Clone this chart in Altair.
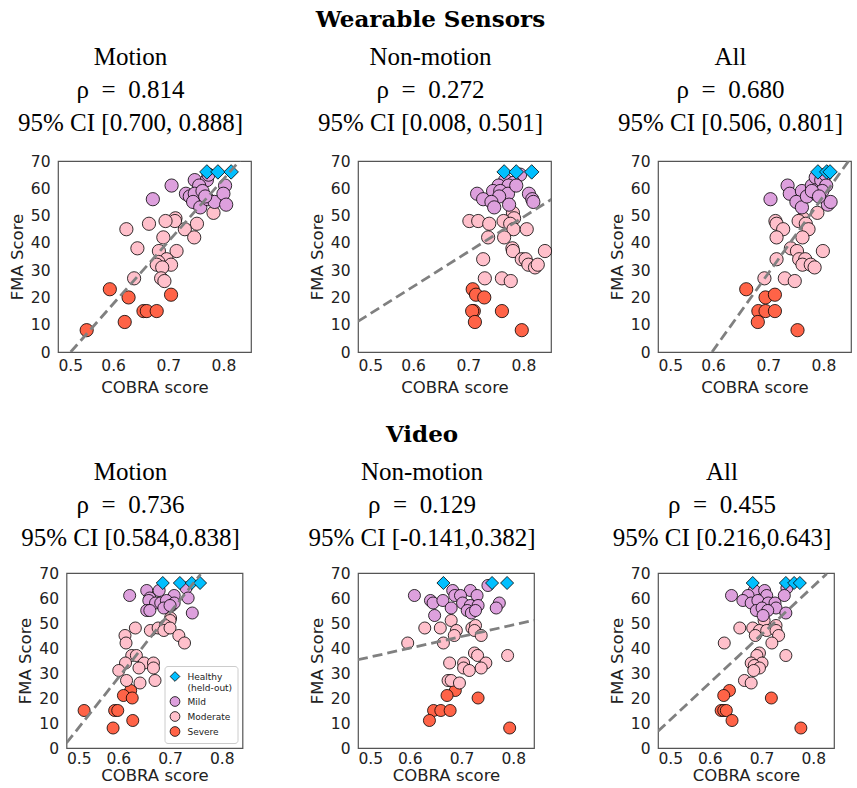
import altair as alt
import pandas as pd

GROUPS = ["Healthy", "Mild", "Moderate", "Severe"]
COLORS = ["#00BFFF", "#DDA0DD", "#FFC0CB", "#FF6347"]
SHAPES = ["diamond", "circle", "circle", "circle"]

SECTION_TOP = "Wearable Sensors"
SECTION_BOTTOM = "Video"
SP = "\u2002"

# ---------- Wearable sensors: Motion ----------
ws_motion_title = ["Motion", "ρ" + SP + "=" + SP + "0.814", "95% CI [0.700, 0.888]"]
ws_motion_healthy_x = [0.770, 0.790, 0.814]
ws_motion_healthy_y = [66, 66, 66]
ws_motion_mild_x = [0.706, 0.672, 0.748, 0.770, 0.773, 0.756, 0.803, 0.732, 0.739, 0.748, 0.762, 0.745, 0.758, 0.772, 0.784, 0.800, 0.805, 0.767]
ws_motion_mild_y = [61, 56, 63, 63, 65, 61, 61, 58, 57, 58, 59, 55, 53, 56, 55, 58, 54, 57]
ws_motion_moderate_x = [0.782, 0.713, 0.712, 0.695, 0.665, 0.752, 0.624, 0.730, 0.691, 0.747, 0.644, 0.683, 0.715, 0.697, 0.682, 0.705, 0.679, 0.689, 0.638, 0.687, 0.693]
ws_motion_moderate_y = [51, 49, 48, 48, 47, 47, 45, 45, 42, 42, 38, 37, 37, 34, 33, 32, 32, 31, 27, 27, 26]
ws_motion_severe_x = [0.594, 0.628, 0.705, 0.655, 0.661, 0.679, 0.621, 0.552]
ws_motion_severe_y = [23, 20, 21, 15, 15, 15, 11, 8]
ws_motion_fit_x = [0.523, 0.830]
ws_motion_fit_y = [0.0, 70.2]

# ---------- Wearable sensors: Non-motion ----------
ws_nonmotion_title = ["Non-motion", "ρ" + SP + "=" + SP + "0.272", "95% CI [0.008, 0.501]"]
ws_nonmotion_healthy_x = [0.765, 0.787, 0.815]
ws_nonmotion_healthy_y = [66, 66, 66]
ws_nonmotion_mild_x = [0.794, 0.767, 0.755, 0.782, 0.773, 0.716, 0.727, 0.745, 0.758, 0.772, 0.756, 0.742, 0.747, 0.774, 0.810, 0.816, 0.818, 0.787]
ws_nonmotion_mild_y = [65, 63, 61, 62, 61, 58, 56, 59, 59, 58, 57, 55, 53, 54, 58, 56, 55, 61]
ws_nonmotion_moderate_x = [0.781, 0.783, 0.702, 0.718, 0.738, 0.764, 0.776, 0.782, 0.806, 0.736, 0.765, 0.780, 0.781, 0.839, 0.727, 0.797, 0.804, 0.809, 0.821, 0.826, 0.730, 0.761, 0.777]
ws_nonmotion_moderate_y = [51, 49, 48, 48, 47, 48, 47, 45, 45, 42, 42, 38, 37, 37, 34, 34, 34, 32, 31, 32, 27, 27, 26]
ws_nonmotion_severe_x = [0.708, 0.714, 0.729, 0.710, 0.707, 0.761, 0.712, 0.797]
ws_nonmotion_severe_y = [23, 21, 20, 15, 15, 15, 11, 8]
ws_nonmotion_fit_x = [0.5, 0.855]
ws_nonmotion_fit_y = [11.2, 56.5]

# ---------- Wearable sensors: All ----------
ws_all_title = ["All", "ρ" + SP + "=" + SP + "0.680", "95% CI [0.506, 0.801]"]
ws_all_healthy_x = [0.790, 0.806, 0.812]
ws_all_healthy_y = [66, 66, 66]
ws_all_mild_x = [0.735, 0.704, 0.739, 0.761, 0.751, 0.761, 0.770, 0.779, 0.786, 0.796, 0.804, 0.805, 0.787, 0.798, 0.808, 0.813, 0.779, 0.792]
ws_all_mild_y = [61, 56, 58, 59, 55, 53, 57, 61, 64, 63, 65, 61, 58, 59, 54, 55, 59, 57]
ws_all_moderate_x = [0.789, 0.763, 0.713, 0.715, 0.755, 0.768, 0.727, 0.773, 0.715, 0.762, 0.741, 0.752, 0.799, 0.715, 0.756, 0.767, 0.762, 0.777, 0.784, 0.693, 0.730, 0.748]
ws_all_moderate_y = [51, 49, 48, 47, 48, 47, 45, 45, 42, 42, 38, 37, 37, 34, 34, 34, 32, 32, 31, 27, 27, 26]
ws_all_severe_x = [0.660, 0.695, 0.712, 0.682, 0.695, 0.712, 0.681, 0.753]
ws_all_severe_y = [23, 20, 21, 15, 15, 15, 11, 8]
ws_all_fit_x = [0.598, 0.847]
ws_all_fit_y = [0.0, 70.4]

# ---------- Video: Motion ----------
v_motion_title = ["Motion", "ρ" + SP + "=" + SP + "0.736", "95% CI [0.584,0.838]"]
v_motion_healthy_x = [0.686, 0.719, 0.742, 0.758]
v_motion_healthy_y = [66, 66, 66, 66]
v_motion_mild_x = [0.622, 0.655, 0.679, 0.731, 0.661, 0.708, 0.735, 0.659, 0.672, 0.682, 0.693, 0.703, 0.688, 0.655, 0.661, 0.708, 0.743, 0.700]
v_motion_mild_y = [61, 63, 63, 64, 60, 61, 60, 59, 58, 58, 59, 57, 56, 55, 55, 58, 54, 57]
v_motion_moderate_x = [0.701, 0.700, 0.633, 0.662, 0.677, 0.691, 0.688, 0.700, 0.613, 0.615, 0.717, 0.728, 0.626, 0.635, 0.614, 0.650, 0.668, 0.640, 0.668, 0.601, 0.616, 0.642, 0.671]
v_motion_moderate_y = [52, 51, 48, 47, 48, 49, 47, 48, 45, 42, 45, 42, 37, 37, 34, 34, 34, 32, 32, 31, 27, 26, 27]
v_motion_severe_x = [0.624, 0.610, 0.627, 0.534, 0.593, 0.599, 0.628, 0.590]
v_motion_severe_y = [23, 21, 20, 15, 15, 15, 11, 8]
v_motion_fit_x = [0.5, 0.759]
v_motion_fit_y = [2.0, 69.5]

# ---------- Video: Non-motion ----------
v_nonmotion_title = ["Non-motion", "ρ" + SP + "=" + SP + "0.129", "95% CI [-0.141,0.382]"]
v_nonmotion_healthy_x = [0.665, 0.759, 0.788]
v_nonmotion_healthy_y = [66, 66, 66]
v_nonmotion_mild_x = [0.751, 0.683, 0.717, 0.687, 0.698, 0.730, 0.609, 0.640, 0.645, 0.664, 0.702, 0.717, 0.732, 0.680, 0.711, 0.719, 0.727, 0.773, 0.767, 0.648]
v_nonmotion_mild_y = [65, 63, 63, 61, 61, 61, 61, 59, 58, 59, 58, 57, 57, 56, 55, 54, 55, 58, 56, 53]
v_nonmotion_moderate_x = [0.680, 0.629, 0.659, 0.690, 0.720, 0.727, 0.725, 0.686, 0.738, 0.596, 0.665, 0.725, 0.731, 0.789, 0.677, 0.704, 0.747, 0.704, 0.715, 0.738, 0.674, 0.680, 0.696]
v_nonmotion_moderate_y = [51, 48, 48, 47, 48, 49, 47, 45, 45, 42, 42, 38, 37, 37, 34, 34, 34, 32, 31, 32, 27, 27, 26]
v_nonmotion_severe_x = [0.688, 0.672, 0.732, 0.646, 0.660, 0.678, 0.638, 0.793]
v_nonmotion_severe_y = [23, 21, 20, 15, 15, 15, 11, 8]
v_nonmotion_fit_x = [0.5, 0.84]
v_nonmotion_fit_y = [35.3, 51.1]

# ---------- Video: All ----------
v_all_title = ["All", "ρ" + SP + "=" + SP + "0.455", "95% CI [0.216,0.643]"]
v_all_healthy_x = [0.683, 0.747, 0.763, 0.774]
v_all_healthy_y = [66, 66, 66, 66]
v_all_mild_x = [0.749, 0.686, 0.706, 0.642, 0.674, 0.710, 0.744, 0.664, 0.680, 0.693, 0.713, 0.726, 0.728, 0.690, 0.701, 0.712, 0.703, 0.747]
v_all_mild_y = [64, 63, 63, 61, 61, 61, 61, 59, 58, 59, 58, 58, 56, 55, 56, 55, 53, 54]
v_all_moderate_x = [0.705, 0.658, 0.683, 0.696, 0.710, 0.728, 0.728, 0.688, 0.733, 0.720, 0.628, 0.696, 0.691, 0.747, 0.680, 0.701, 0.686, 0.696, 0.685, 0.667, 0.680]
v_all_moderate_y = [51, 48, 48, 47, 47, 49, 47, 45, 45, 42, 42, 38, 37, 37, 34, 34, 33, 32, 31, 27, 26]
v_all_severe_x = [0.638, 0.627, 0.719, 0.622, 0.627, 0.632, 0.643, 0.776]
v_all_severe_y = [23, 21, 20, 15, 15, 15, 11, 8]
v_all_fit_x = [0.5, 0.826]
v_all_fit_y = [6.7, 69.7]

X_TICKS = [0.5, 0.6, 0.7, 0.8]
Y_TICKS = [0, 10, 20, 30, 40, 50, 60, 70]

SERIF = "Liberation Serif"
TITLE_SIZE = 25
TITLE_LH = 33
TITLE_DX = -24


def make_df(groups):
    rows = []
    for g, xs, ys in groups:
        for x, y in zip(xs, ys):
            rows.append({"x": x, "y": y, "group": g})
    return pd.DataFrame(rows)


def panel(groups, fit_x, fit_y, lines, width, height, xmax, section=None, legend=False):
    df = make_df(groups)
    big = height > 180
    offset = 18 if big else 15
    xsc = alt.Scale(domain=[0.5, xmax], nice=False, zero=False)
    ysc = alt.Scale(domain=[0, 70], nice=False, zero=False)
    xaxis = alt.Axis(values=X_TICKS, format=".1f", title="COBRA score", labelOverlap=False,
                     labelPadding=6 if big else 3, titlePadding=6 if big else 1)
    yaxis = alt.Axis(values=Y_TICKS, format="d", title="FMA Score", labelOverlap=False)
    xenc = alt.X("x:Q", scale=xsc, axis=xaxis)
    yenc = alt.Y("y:Q", scale=ysc, axis=yaxis)
    if legend:
        leg = alt.Legend(
            title=None, orient="bottom-right", offset=5, padding=5,
            strokeColor="#cccccc", fillColor="white", cornerRadius=3,
            labelFont="DejaVu Sans", labelFontSize=9, labelColor="#222",
            labelExpr="datum.label == 'Healthy' ? ['Healthy', '(held-out)'] : datum.label",
            symbolSize=95, symbolStrokeColor="black", symbolStrokeWidth=0.8,
            rowPadding=2, labelOffset=7,
        )
    else:
        leg = None
    color = alt.Color("group:N", scale=alt.Scale(domain=GROUPS, range=COLORS), legend=leg)
    shape = alt.Shape("group:N", scale=alt.Scale(domain=GROUPS, range=SHAPES), legend=leg)
    base = alt.Chart(df).encode(x=xenc, y=yenc, color=color, shape=shape)
    circles = base.transform_filter("datum.group != 'Healthy'").mark_point(
        filled=True, size=175 if big else 145, stroke="black", strokeWidth=0.8, opacity=1)
    diamonds = base.transform_filter("datum.group == 'Healthy'").mark_point(
        filled=True, size=210 if big else 170, stroke="black", strokeWidth=0.8, opacity=1)
    fit_df = pd.DataFrame({"x": fit_x, "y": fit_y})
    line = alt.Chart(fit_df).mark_line(
        color="#808080", strokeWidth=2.8, strokeDash=[10, 5], clip=True
    ).encode(x=xenc, y=yenc)
    if section is None:
        title = alt.TitleParams(
            text=lines, font=SERIF, fontSize=TITLE_SIZE, fontWeight="normal",
            lineHeight=TITLE_LH, anchor="middle", dx=TITLE_DX, offset=offset, color="black")
    else:
        title = alt.TitleParams(
            text=section, font="DejaVu Serif", fontSize=23, fontWeight="bold",
            anchor="middle", dx=TITLE_DX, offset=offset, color="black",
            subtitle=lines, subtitleFont=SERIF, subtitleFontSize=TITLE_SIZE,
            subtitleFontWeight="normal", subtitleLineHeight=TITLE_LH,
            subtitleColor="black", subtitlePadding=13)
    return alt.layer(circles, diamonds, line).properties(width=width, height=height, title=title)


TW, TH, TX = 193, 191, 0.85
BW, BH, BX = 176, 175, 0.84

p1 = panel([("Severe", ws_motion_severe_x, ws_motion_severe_y),
            ("Moderate", ws_motion_moderate_x, ws_motion_moderate_y),
            ("Mild", ws_motion_mild_x, ws_motion_mild_y),
            ("Healthy", ws_motion_healthy_x, ws_motion_healthy_y)],
           ws_motion_fit_x, ws_motion_fit_y, ws_motion_title, TW, TH, TX)
p2 = panel([("Severe", ws_nonmotion_severe_x, ws_nonmotion_severe_y),
            ("Moderate", ws_nonmotion_moderate_x, ws_nonmotion_moderate_y),
            ("Mild", ws_nonmotion_mild_x, ws_nonmotion_mild_y),
            ("Healthy", ws_nonmotion_healthy_x, ws_nonmotion_healthy_y)],
           ws_nonmotion_fit_x, ws_nonmotion_fit_y, ws_nonmotion_title, TW, TH, TX, section=SECTION_TOP)
p3 = panel([("Severe", ws_all_severe_x, ws_all_severe_y),
            ("Moderate", ws_all_moderate_x, ws_all_moderate_y),
            ("Mild", ws_all_mild_x, ws_all_mild_y),
            ("Healthy", ws_all_healthy_x, ws_all_healthy_y)],
           ws_all_fit_x, ws_all_fit_y, ws_all_title, TW, TH, TX)
p4 = panel([("Severe", v_motion_severe_x, v_motion_severe_y),
            ("Moderate", v_motion_moderate_x, v_motion_moderate_y),
            ("Mild", v_motion_mild_x, v_motion_mild_y),
            ("Healthy", v_motion_healthy_x, v_motion_healthy_y)],
           v_motion_fit_x, v_motion_fit_y, v_motion_title, BW, BH, BX, legend=True)
p5 = panel([("Severe", v_nonmotion_severe_x, v_nonmotion_severe_y),
            ("Moderate", v_nonmotion_moderate_x, v_nonmotion_moderate_y),
            ("Mild", v_nonmotion_mild_x, v_nonmotion_mild_y),
            ("Healthy", v_nonmotion_healthy_x, v_nonmotion_healthy_y)],
           v_nonmotion_fit_x, v_nonmotion_fit_y, v_nonmotion_title, BW, BH, BX, section=SECTION_BOTTOM)
p6 = panel([("Severe", v_all_severe_x, v_all_severe_y),
            ("Moderate", v_all_moderate_x, v_all_moderate_y),
            ("Mild", v_all_mild_x, v_all_mild_y),
            ("Healthy", v_all_healthy_x, v_all_healthy_y)],
           v_all_fit_x, v_all_fit_y, v_all_title, BW, BH, BX)

chart = alt.concat(
    p1, p2, p3, p4, p5, p6,
    columns=3,
    spacing={"row": 221, "column": 107},
    bounds="flush",
    center=True,
    align="all",
).resolve_scale(
    color="independent", shape="independent"
).properties(
    padding={"left": 8, "top": 8, "right": 0, "bottom": 0},
    background="white",
).configure_view(
    stroke="#555555", strokeWidth=1.2
).configure_axis(
    grid=False, ticks=False, domain=False,
    labelFont="DejaVu Sans", labelFontSize=15.5, labelColor="#222222",
    titleFont="DejaVu Sans", titleFontSize=16.5, titleFontWeight="normal", titleColor="#222222",
).configure_axisY(
    labelPadding=8, titlePadding=5
)

chart.save("out.html", embed_options={"renderer": "svg", "actions": False})
